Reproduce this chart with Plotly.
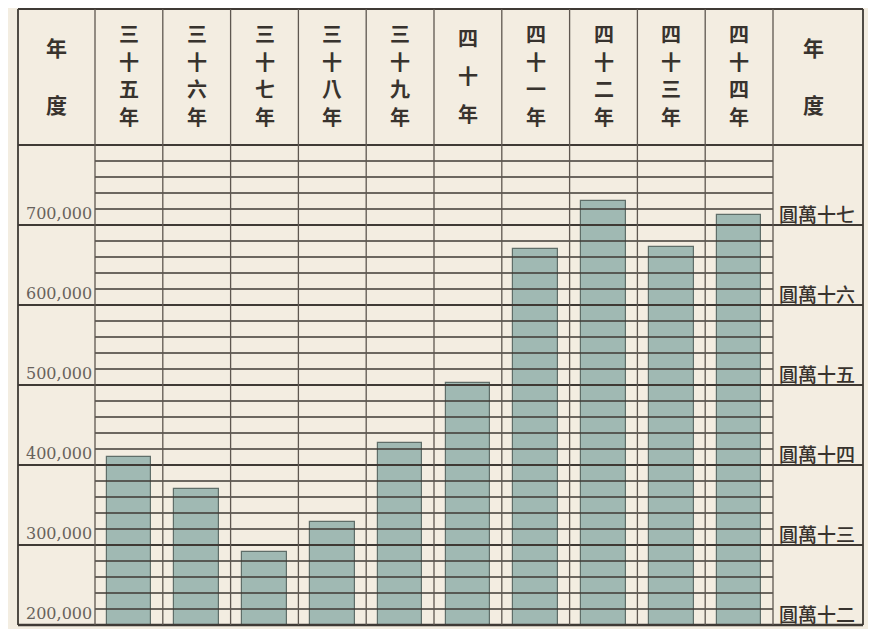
import plotly.graph_objects as go

# ---- data ----
years = ["三十五年", "三十六年", "三十七年", "三十八年", "三十九年",
         "四十年", "四十一年", "四十二年", "四十三年", "四十四年"]
values = [410000, 370000, 291500, 329000, 428000,
          502000, 670000, 730000, 672000, 712500]
left_ticks = [200000, 300000, 400000, 500000, 600000, 700000]
left_tick_text = ["200,000", "300,000", "400,000", "500,000", "600,000", "700,000"]
right_tick_text = ["圓萬十二", "圓萬十三", "圓萬十四", "圓萬十五", "圓萬十六", "圓萬十七"]
side_header = "年度"

# ---- geometry / style ----
OFF = 8                      # page body margin of the html page
W, H = 876 - OFF, 629 - OFF
PLOT_L, PLOT_R, PLOT_T, PLOT_B = 95, 773, 145, 625   # page pixel positions
ML, MR = PLOT_L - OFF, W - (PLOT_R - OFF)
MT, MB = PLOT_T - OFF, H - (PLOT_B - OFF)
PW, PH = W - ML - MR, H - MT - MB
YMIN, YMAX = 200000, 800000
MINOR = 20000
N = len(years)

BG = "#f3ede1"
LINE = "#3f3a35"
VLINE = "#5e5750"
BAR = "#a0b9b3"
BAR_EDGE = "#5f6e69"
TXT = "#38332e"
NUM = "#67625c"
CJK = "Noto Sans CJK TC"


def px_to_paper_x(px):
    return (px - PLOT_L) / PW


def px_to_paper_y(py):
    return (PLOT_B - py) / PH


def val_to_paper_y(v):
    return (v - YMIN) / (YMAX - YMIN)


def xdata_to_paper(xv):
    return (xv + 0.5) / N


FRAME_L = px_to_paper_x(18)
FRAME_R = px_to_paper_x(863)
FRAME_T = px_to_paper_y(OFF + 1)

fig = go.Figure()
fig.add_trace(go.Bar(
    x=list(range(N)), y=values, width=0.66,
    marker=dict(color=BAR, line=dict(color=BAR_EDGE, width=1.2)),
    hoverinfo="skip",
))

shapes = []
# thin horizontal lines (data columns only)
v = YMIN + MINOR
while v < YMAX:
    if v % 100000 != 0:
        py = val_to_paper_y(v)
        shapes.append(dict(type="line", xref="paper", yref="paper", x0=0, x1=1,
                           y0=py, y1=py, line=dict(color=LINE, width=1.3), layer="above"))
    v += MINOR
# thick lines at each 100,000 across full width
for t in left_ticks[1:] + [YMAX]:
    py = val_to_paper_y(t)
    shapes.append(dict(type="line", xref="paper", yref="paper", x0=FRAME_L, x1=FRAME_R,
                       y0=py, y1=py, line=dict(color=LINE, width=2.2), layer="above"))
# bottom and top frame
shapes.append(dict(type="line", xref="paper", yref="paper", x0=FRAME_L, x1=FRAME_R,
                   y0=0, y1=0, line=dict(color=LINE, width=2.4), layer="above"))
shapes.append(dict(type="line", xref="paper", yref="paper", x0=FRAME_L, x1=FRAME_R,
                   y0=FRAME_T, y1=FRAME_T, line=dict(color=LINE, width=1.8), layer="above"))
# vertical column lines
for i in range(N + 1):
    px = xdata_to_paper(i - 0.5)
    shapes.append(dict(type="line", xref="paper", yref="paper", x0=px, x1=px,
                       y0=0, y1=FRAME_T, line=dict(color=VLINE, width=1.3), layer="above"))
for px in (FRAME_L, FRAME_R):
    shapes.append(dict(type="line", xref="paper", yref="paper", x0=px, x1=px,
                       y0=0, y1=FRAME_T, line=dict(color=LINE, width=1.8), layer="above"))

annotations = []
# header: vertical stacked characters
HEAD_CENTER = px_to_paper_y(75)
SPACING = {4: 27.5, 3: 38, 2: 57}


def stack(text, xpaper, size):
    n = len(text)
    sp = SPACING.get(n, 27.5)
    for k, ch in enumerate(text):
        off = (k - (n - 1) / 2) * sp
        annotations.append(dict(
            x=xpaper, y=HEAD_CENTER - off / PH, xref="paper", yref="paper",
            text=ch, showarrow=False, xanchor="center", yanchor="middle", borderpad=0,
            font=dict(family=CJK, size=size, color=TXT, weight=600)))


for i, yr in enumerate(years):
    stack(yr, xdata_to_paper(i), 20)
stack(side_header, px_to_paper_x(56), 21)
stack(side_header, px_to_paper_x(814), 21)

# side labels
for t, lt, rt in zip(left_ticks, left_tick_text, right_tick_text):
    py = val_to_paper_y(t)
    annotations.append(dict(
        x=px_to_paper_x(93), y=py, xref="paper", yref="paper", text=lt,
        showarrow=False, xanchor="right", yanchor="middle", yshift=12, borderpad=0,
        font=dict(family="DejaVu Serif", size=16, color=NUM)))
    annotations.append(dict(
        x=px_to_paper_x(817), y=py, xref="paper", yref="paper", text=rt,
        showarrow=False, xanchor="center", yanchor="middle", yshift=12, borderpad=0,
        font=dict(family=CJK, size=19, color=TXT, weight=500)))

fig.update_layout(
    width=W, height=H,
    margin=dict(l=ML, r=MR, t=MT, b=MB),
    paper_bgcolor=BG, plot_bgcolor=BG,
    showlegend=False, bargap=0,
    xaxis=dict(range=[-0.5, N - 0.5], showgrid=False, zeroline=False,
               showticklabels=False, ticks="", fixedrange=True),
    yaxis=dict(range=[YMIN, YMAX], showgrid=False, zeroline=False,
               showticklabels=False, ticks="", fixedrange=True),
    shapes=shapes, annotations=annotations,
)

fig.write_html("out.html")
